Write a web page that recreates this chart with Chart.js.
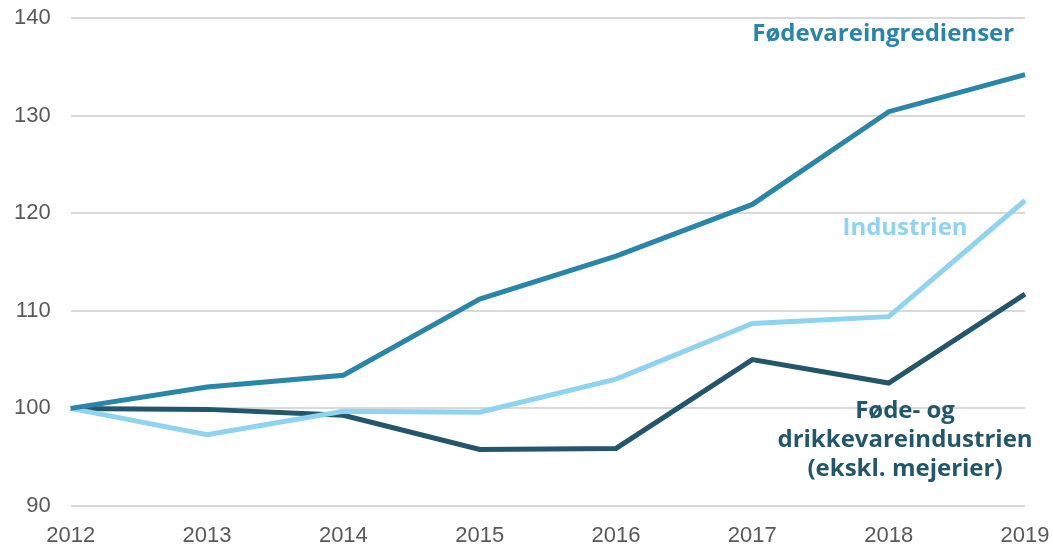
<!DOCTYPE html>
<html>
<head>
<meta charset="utf-8">
<script src="https://cdn.jsdelivr.net/npm/chart.js@4"></script>
<style>
  html, body { margin: 0; padding: 0; background: #fff; }
  #wrap { width: 1053px; height: 545px; }
</style>
</head>
<body>
<div id="wrap"><canvas id="indexChart"></canvas></div>
<script>
var years = ['2012', '2013', '2014', '2015', '2016', '2017', '2018', '2019'];
var foedevareingredienser = [100, 102.2, 103.4, 111.2, 115.6, 120.9, 130.4, 134.2];
var industrien = [100, 97.3, 99.7, 99.6, 103.0, 108.7, 109.4, 121.3];
var foedeOgDrikke = [100, 99.9, 99.3, 95.8, 95.9, 105.0, 102.6, 111.7];
var yTicks = [90, 100, 110, 120, 130, 140];

// label text, colour and anchor (x index, y value)
var seriesLabels = [
  { lines: ['Fødevareingredienser'], color: '#2a86a8', x: 5.96, y: 138.3 },
  { lines: ['Industrien'], color: '#8ed3ef', x: 6.12, y: 118.5 },
  { lines: ['Føde- og', 'drikkevareindustrien', '(ekskl. mejerier)'], color: '#22566b', x: 6.12, y: 99.75 }
];

var labelPlugin = {
  id: 'seriesLabels',
  afterDatasetsDraw: function(chart) {
    var ctx = chart.ctx;
    var xs = chart.scales.x, ys = chart.scales.y;
    ctx.save();
    ctx.font = 'bold 24px "Open Sans"';
    ctx.textAlign = 'center';
    ctx.textBaseline = 'middle';
    seriesLabels.forEach(function(l) {
      var px = xs.getPixelForValue(l.x);
      var py = ys.getPixelForValue(l.y);
      ctx.fillStyle = l.color;
      l.lines.forEach(function(t, i) {
        ctx.fillText(t, px, py + i * 29);
      });
    });
    ctx.restore();
  }
};

var ctx = document.getElementById('indexChart').getContext('2d');
var chart = new Chart(ctx, {
  type: 'line',
  data: {
    labels: years,
    datasets: [{
      label: 'Fødevareingredienser',
      data: foedevareingredienser,
      borderColor: '#2a86a8',
      borderWidth: 5,
      pointRadius: 0,
      tension: 0
    }, {
      label: 'Industrien',
      data: industrien,
      borderColor: '#8ed3ef',
      borderWidth: 5,
      pointRadius: 0,
      tension: 0
    }, {
      label: 'Føde- og drikkevareindustrien (ekskl. mejerier)',
      data: foedeOgDrikke,
      borderColor: '#22566b',
      borderWidth: 5,
      pointRadius: 0,
      tension: 0
    }]
  },
  options: {
    responsive: true,
    maintainAspectRatio: false,
    animation: false,
    layout: { padding: { left: -6, right: 28, top: 18, bottom: 0 } },
    plugins: {
      legend: { display: false },
      tooltip: { enabled: false }
    },
    scales: {
      x: {
        offset: false,
        grid: { display: false },
        border: { display: false },
        afterFit: function(axis) {
          axis.paddingLeft = 0;
          axis.paddingRight = 0;
          axis.height = 39;
        },
        ticks: {
          color: '#595959',
          font: { family: 'Liberation Sans', size: 22 },
          maxRotation: 0,
          padding: 9
        }
      },
      y: {
        min: 90,
        max: 140,
        afterBuildTicks: function(axis) {
          axis.ticks = yTicks.map(function(v) { return { value: v }; });
        },
        afterFit: function(axis) {
          axis.paddingTop = 0;
          axis.paddingBottom = 0;
        },
        grid: { color: '#d9d9d9', lineWidth: 2, drawTicks: false },
        border: { display: false },
        ticks: {
          color: '#595959',
          font: { family: 'Liberation Sans', size: 22 },
          padding: 20
        }
      }
    }
  },
  plugins: [labelPlugin]
});
</script>
</body>
</html>
